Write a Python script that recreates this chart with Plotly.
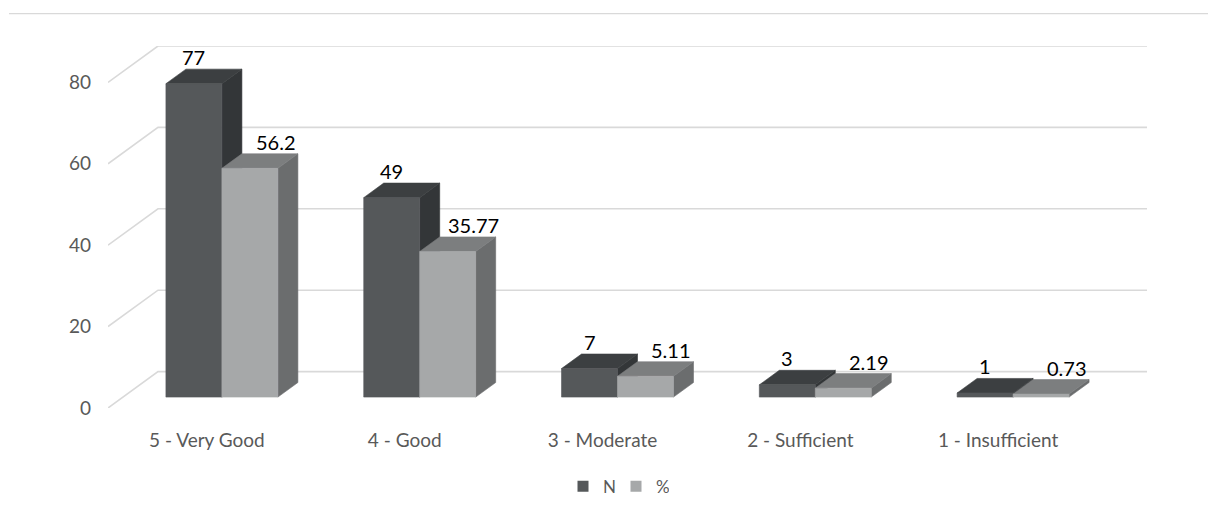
import plotly.graph_objects as go

# Ratings and the two series shown for each one
categories = ["5 - Very Good", "4 - Good", "3 - Moderate", "2 - Sufficient", "1 - Insufficient"]
n_values = [77, 49, 7, 3, 1]
pct_values = [56.2, 35.77, 5.11, 2.19, 0.73]
y_ticks = [0, 20, 40, 60, 80]
series_names = ["N", "%"]

# Page / plot-area geometry (pixels)
W, H = 1208, 517
M_L, M_R, M_T, M_B = 108, 61, 46, 103
PLOT_W = W - M_L - M_R
PLOT_H = H - M_T - M_B
DEPTH_PX_X, DEPTH_PX_Y = 50, 37          # screen offset of the full floor depth

Y_TOP = max(y_ticks)
N_CAT = len(categories)
X_SPAN = N_CAT                            # floor runs from -0.5 to N_CAT - 0.5
# depth offsets expressed in axis units (oblique projection)
DX = DEPTH_PX_X * X_SPAN / (PLOT_W - DEPTH_PX_X)
DY = DEPTH_PX_Y * Y_TOP / (PLOT_H - DEPTH_PX_Y)

BAR_W = 0.283                             # width of one bar, category units
D0, D1 = 0.30, 0.70                       # front / back depth of the bars

GRID = "#d9d9d9"
TEXT = "#595959"
FONT = "Lato"
COLORS = {
    "N": {"front": "#55585a", "top": "#3c3f41", "side": "#333638"},
    "%": {"front": "#a6a8a9", "top": "#7c7e7f", "side": "#6b6d6e"},
}


def proj(x, v, d):
    return x + d * DX, v + d * DY


def faces(xl, xr, v):
    front = [proj(xl, 0, D0), proj(xr, 0, D0), proj(xr, v, D0), proj(xl, v, D0)]
    top = [proj(xl, v, D0), proj(xr, v, D0), proj(xr, v, D1), proj(xl, v, D1)]
    side = [proj(xr, 0, D0), proj(xr, 0, D1), proj(xr, v, D1), proj(xr, v, D0)]
    return {"front": front, "top": top, "side": side}


fig = go.Figure()

# back-wall and side-wall gridlines
gx, gy = [], []
for t in y_ticks:
    for p in [proj(-0.5, t, 0), proj(-0.5, t, 1), proj(N_CAT - 0.5, t, 1)]:
        gx.append(p[0])
        gy.append(p[1])
    gx.append(None)
    gy.append(None)
fig.add_trace(go.Scatter(x=gx, y=gy, mode="lines", line=dict(color=GRID, width=1.6),
                         hoverinfo="skip", showlegend=False))

series = [("N", n_values, -BAR_W, 0.0), ("%", pct_values, 0.0, BAR_W)]
for name, values, off_l, off_r in series:
    for face in ["side", "top", "front"]:
        px, py = [], []
        for i, v in enumerate(values):
            poly = faces(i + off_l, i + off_r, v)[face]
            for p in poly + [poly[0]]:
                px.append(p[0])
                py.append(p[1])
            px.append(None)
            py.append(None)
        col = COLORS[name][face]
        fig.add_trace(go.Scatter(x=px, y=py, mode="lines", fill="toself", fillcolor=col,
                                 line=dict(color=col, width=0.6), hoverinfo="skip",
                                 showlegend=False))

# data labels above each bar
LABEL_FONT = dict(family=FONT, size=20, color="#000000")
annotations = []
for i, v in enumerate(n_values):
    x, _ = proj(i - BAR_W / 2, v, D0)
    annotations.append(dict(x=x, y=v + D1 * DY, text=f"{v:g}", showarrow=False,
                            xanchor="center", yanchor="bottom", yshift=-2, font=LABEL_FONT))
for i, v in enumerate(pct_values):
    x, _ = proj(i + BAR_W / 2, v, D0)
    annotations.append(dict(x=x + 0.13, y=v + D1 * DY, text=f"{v:g}", showarrow=False,
                            xanchor="center", yanchor="bottom", yshift=-2, font=LABEL_FONT))

# legend entries
for name in series_names:
    fig.add_trace(go.Scatter(x=[None], y=[None], mode="markers", name=name,
                             marker=dict(symbol="square", size=11, color=COLORS[name]["front"])))

# thin rule across the top of the chart area
rule_y = (H - M_B - 13) / PLOT_H
fig.add_shape(type="line", xref="paper", yref="paper",
              x0=(9 - M_L) / PLOT_W, x1=(W - M_L) / PLOT_W, y0=rule_y, y1=rule_y,
              line=dict(color=GRID, width=1.2))

fig.update_layout(
    width=W, height=H,
    margin=dict(l=M_L, r=M_R, t=M_T, b=M_B),
    paper_bgcolor="white", plot_bgcolor="white",
    annotations=annotations,
    showlegend=True,
    legend=dict(orientation="h", x=(616 - M_L) / PLOT_W, xanchor="center",
                y=-(494 - (H - M_B)) / PLOT_H, yanchor="middle",
                font=dict(family=FONT, size=17, color=TEXT),
                itemwidth=30, entrywidth=8, entrywidthmode="pixels",
                tracegroupgap=0, bgcolor="rgba(0,0,0,0)"),
    xaxis=dict(range=[-0.5, N_CAT - 0.5 + DX], showgrid=False, zeroline=False,
               showline=False, tickvals=list(range(N_CAT)), ticktext=categories,
               ticks="", ticklabelstandoff=19,
               tickfont=dict(family=FONT, size=19, color=TEXT), fixedrange=True),
    yaxis=dict(range=[0, Y_TOP + DY], showgrid=False, zeroline=False, showline=False,
               tickvals=y_ticks, ticks="", ticklabelstandoff=16,
               tickfont=dict(family=FONT, size=19, color=TEXT), fixedrange=True),
)

fig.write_html("out.html")
